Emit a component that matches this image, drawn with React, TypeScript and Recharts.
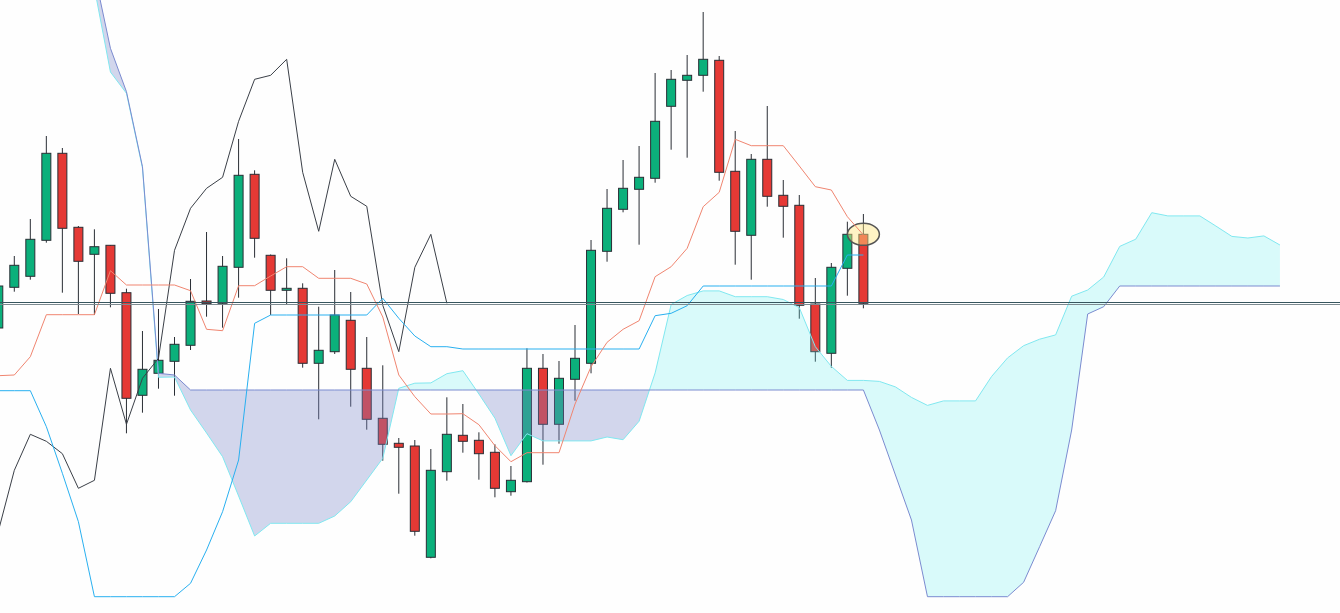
import React from 'react';
import {
  ComposedChart,
  Bar,
  Line,
  Area,
  XAxis,
  YAxis,
  ReferenceLine,
  ReferenceDot,
} from 'recharts';

// candles, index 0..54 (price units, no axis shown)
const opens = [285, 325.7, 336.7, 372.7, 459.7, 385.7, 358.7, 367.7, 320.3, 217.7, 239.7, 251.7, 267.7, 312, 309.7, 345.7, 438.7, 357.7, 322.7, 324.7, 249.7, 261.3, 292.7, 244.7, 194.7, 169.7, 167, 55.7, 141.3, 177.7, 172.7, 160.7, 121.3, 131.3, 244.7, 188.7, 233.7, 249.7, 361.7, 403.7, 423.7, 434.7, 506.7, 532.7, 537.7, 552.7, 441.7, 377.7, 453.7, 417.7, 407.7, 309, 259.7, 344.7, 378.7];
const closes = [327, 347.7, 373.7, 459.7, 384.7, 351.7, 366.3, 319.7, 214.7, 243.7, 252.7, 268.7, 311.7, 309.3, 346.7, 437.7, 374.7, 322.7, 324.7, 249.7, 262.7, 298, 243.7, 193.7, 168.7, 165.7, 81.7, 142.7, 178.7, 171.7, 159.3, 124.7, 132.7, 244.7, 188.7, 234.7, 254.7, 362.7, 404.7, 424.7, 435.7, 491.7, 533.7, 537.7, 553.7, 440.7, 381.7, 453.7, 416.7, 406.7, 307.7, 261.3, 345.7, 378.7, 309.7];
const highs = [329, 357, 394, 477, 465, 387, 383.7, 368, 324.3, 282, 304, 276, 334, 381, 357, 474, 442.7, 358.5, 354.7, 329.7, 306.3, 343, 321, 276, 247.7, 175, 173, 164, 215.7, 209, 180.7, 168.7, 147, 264.7, 259, 252, 288, 373, 424, 453, 467, 540, 543, 558, 601, 557, 482, 459, 507, 433, 418, 335, 350, 391.3, 399];
const lows = [283, 321.3, 333.3, 370.3, 320.3, 299, 298, 305.7, 179.7, 200.3, 224.3, 217.3, 263, 296.3, 285.3, 315.3, 355.3, 298, 309, 245.3, 193.7, 259, 206.3, 183.3, 152.3, 119.3, 77.3, 54.7, 132.3, 160.3, 133.3, 115.7, 117.3, 130.5, 148.3, 169.3, 212.3, 239.7, 351.3, 400.7, 368.3, 430.3, 463.3, 455.3, 521.3, 432.3, 348.3, 333.3, 406.3, 375.3, 294.3, 251.3, 245.3, 317.3, 304.7];

// ichimoku lines
const tenkan = [237.3, 238, 256.3, 298.3, 298.3, 298.3, 298.3, 342.3, 328, 328, 328, 328, 322.3, 283.7, 282.3, 327.3, 327.3, 337, 346.3, 346.3, 334.7, 334.7, 334.7, 329, 296, 238, 216.3, 199, 199, 199.3, 188.3, 167.3, 151.3, 160.3, 160.3, 160.3, 209, 246.3, 270.7, 283.7, 292.3, 336.3, 346.3, 364.7, 406.3, 420.7, 473.7, 467.3, 467.3, 467.3, 447, 426.3, 423, 396.3, 378];
const kijun = [222.3, 222.3, 222.3, 186.3, 139.7, 91.3, 16.3, 16.3, 16.3, 16.3, 16.3, 16.3, 29.7, 63, 101.3, 153, 289.7, 298, 298, 298, 298, 298, 298, 298, 314.7, 294.7, 277, 266.3, 266.3, 264, 264, 264, 264, 264, 264, 264, 264, 264, 264, 264, 264, 297.3, 299.7, 307.3, 327, 327, 327, 327, 327, 327, 327, 327, 327, 358, 358];
const chikou = [81.7, 142.7, 178.7, 171.7, 159.3, 124.7, 132.7, 244.7, 188.7, 234.7, 254.7, 362.7, 404.7, 424.7, 435.7, 491.7, 533.7, 537.7, 553.7, 440.7, 381.7, 453.7, 416.7, 406.7, 307.7, 261.3, 345.7, 378.7, 309.7];

// cloud, index 6..80
const cloudStart = 6;
const senkouA = [625, 541, 519.7, 445, 235.7, 236, 203, 180, 156.3, 117, 77, 89.7, 89.7, 89.7, 89.7, 97, 111.3, 133, 154.7, 224.7, 229.8, 230.1, 239.3, 242.3, 219, 194.8, 157.3, 179.3, 172.1, 172.1, 172.1, 172.1, 176, 173.3, 191.8, 240.1, 308.5, 317.5, 322.1, 322.1, 316.3, 316.3, 316.3, 313.5, 305.3, 266.3, 246.6, 232.6, 232.6, 231.6, 226.1, 215.6, 207.6, 212.1, 212.1, 212.1, 236.5, 255.1, 267.3, 273.8, 278.1, 316.8, 323, 336, 366.6, 373.8, 400.3, 397.1, 397.1, 397.1, 387, 376.6, 375, 377.1, 368];
const senkouB = [640, 564.7, 521.3, 446.3, 239.7, 238, 223, 223, 223, 223, 223, 223, 223, 223, 223, 223, 223, 223, 223, 223, 223, 223, 223, 223, 223, 223, 223, 223, 223, 223, 223, 223, 223, 223, 223, 223, 223, 223, 223, 223, 223, 223, 223, 223, 223, 223, 223, 223, 223, 183, 138, 93, 16.3, 16.3, 16.3, 16.3, 16.3, 16.3, 30.7, 66.3, 102.3, 183, 299, 306.3, 327, 327, 327, 327, 327, 327, 327, 327, 327, 327, 327];

const levels = [310.5, 308.5];

const UP = '#0bb07b';
const DOWN = '#e53935';
const EDGE = '#2a2e35';

const rows = opens.map((o, i) => ({
  x: i,
  open: o,
  close: closes[i],
  high: highs[i],
  low: lows[i],
  range: [lows[i], highs[i]],
  tenkan: tenkan[i],
  kijun: kijun[i],
  chikou: i < chikou.length ? chikou[i] : null,
}));

// split the cloud where the two spans cross so each colour fills its own side
const cloudRows: any[] = [];
senkouA.forEach((a, k) => {
  const b = senkouB[k];
  const x = cloudStart + k;
  if (k > 0) {
    const pa = senkouA[k - 1];
    const pb = senkouB[k - 1];
    const d0 = pa - pb;
    const d1 = a - b;
    if (d0 * d1 < 0) {
      const t = d0 / (d0 - d1);
      const c = pa + (a - pa) * t;
      cloudRows.push({ x: x - 1 + t, a: c, b: c, bull: [c, c], bear: [c, c] });
    }
  }
  cloudRows.push({
    x,
    a,
    b,
    bull: a >= b ? [b, a] : [b, b],
    bear: a < b ? [a, b] : [b, b],
  });
});

const Candle = (props: any) => {
  const { x, y, width, height, payload } = props;
  if (x == null || y == null || !payload) return null;
  const { open, close, high, low } = payload;
  const top = Math.min(y, y + height);
  const h = Math.abs(height);
  const cx = x + width / 2;
  const px = (v: number) => top + ((high - v) / (high - low)) * h;
  const bTop = px(Math.max(open, close));
  const bBot = px(Math.min(open, close));
  return (
    <g>
      <line x1={cx} x2={cx} y1={top} y2={top + h} stroke={EDGE} strokeWidth={1} />
      <rect
        x={cx - 4.5}
        y={bTop}
        width={9}
        height={Math.max(bBot - bTop, 1.5)}
        fill={close >= open ? UP : DOWN}
        stroke={EDGE}
        strokeWidth={1}
      />
    </g>
  );
};

const Marker = (props: any) => (
  <ellipse
    cx={props.cx}
    cy={props.cy}
    rx={16}
    ry={11}
    fill="#ffe680"
    fillOpacity={0.45}
    stroke="#555"
    strokeWidth={1.5}
  />
);

const last = opens.length - 1;

export default function App() {
  return (
    <div style={{ position: 'absolute', left: 0, top: 0, width: 1340, height: 613, background: '#fefefe' }}>
      <ComposedChart width={1340} height={613} data={rows} margin={{ top: 0, right: 0, bottom: 0, left: 0 }}>
        <XAxis dataKey="x" type="number" domain={[0.106, 83.75]} allowDataOverflow hide />
        <YAxis type="number" domain={[0, 613]} allowDataOverflow hide />
        <Bar dataKey="range" barSize={9} shape={<Candle />} isAnimationActive={false} zIndex={300} />
        <Area
          data={cloudRows}
          dataKey="bear"
          type="linear"
          stroke="none"
          fill="rgb(120,135,200)"
          fillOpacity={0.33}
          isAnimationActive={false}
          zIndex={350}
        />
        <Area
          data={cloudRows}
          dataKey="bull"
          type="linear"
          stroke="none"
          fill="rgb(100,240,240)"
          fillOpacity={0.24}
          isAnimationActive={false}
          zIndex={350}
        />
        <ReferenceDot x={last} y={opens[last]} shape={<Marker />} zIndex={360} />
        <Line data={cloudRows} dataKey="a" type="linear" stroke="#80e8f0" strokeWidth={1} dot={false} activeDot={false} isAnimationActive={false} />
        <Line data={cloudRows} dataKey="b" type="linear" stroke="#7b8bd0" strokeWidth={1} dot={false} activeDot={false} isAnimationActive={false} />
        <Line dataKey="chikou" type="linear" stroke="#3a3f47" strokeWidth={1} dot={false} activeDot={false} isAnimationActive={false} />
        <Line dataKey="kijun" type="linear" stroke="#29b0f0" strokeWidth={1} dot={false} activeDot={false} isAnimationActive={false} />
        <Line dataKey="tenkan" type="linear" stroke="#f08570" strokeWidth={1} dot={false} activeDot={false} isAnimationActive={false} />
        <ReferenceLine y={levels[0]} stroke="#37555e" strokeWidth={1} zIndex={450} />
        <ReferenceLine y={levels[1]} stroke="#7d8b91" strokeWidth={1} zIndex={450} />
      </ComposedChart>
    </div>
  );
}
